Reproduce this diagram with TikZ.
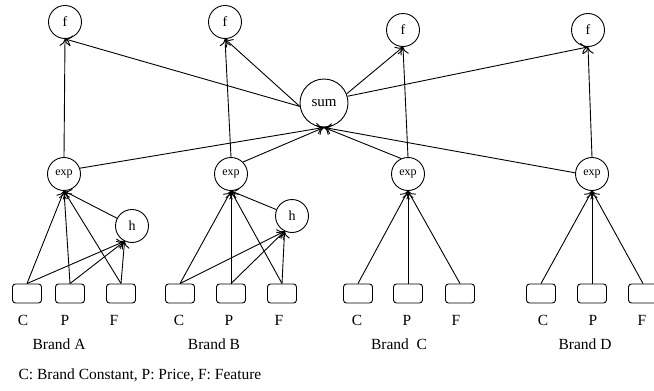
\documentclass[tikz,border=0pt]{standalone}
\usepackage{fontspec}
\setmainfont{Liberation Serif}
\usetikzlibrary{arrows.meta}

\begin{document}
\begin{tikzpicture}[x=1pt,y=-1pt,
  every node/.style={font=\fontsize{15.5}{18}\selectfont},
  unit/.style={circle, draw, line width=0.9pt, minimum size=33pt, inner sep=0pt,
               font=\fontsize{14}{16}\selectfont},
  expunit/.style={unit, font=\fontsize{12}{14}\selectfont},
  sumunit/.style={unit, minimum size=48pt, font=\fontsize{15}{17}\selectfont},
  inbox/.style={draw, line width=0.9pt, rounded corners=3pt, minimum width=29pt, minimum height=19pt, inner sep=0pt},
  arr/.style={line width=0.9pt, -{To[length=7pt,width=11pt]}}
]
\useasboundingbox (0,0) rectangle (654,391);

% output units
\node[unit] (fnA) at (65,22) {f};
\node[unit] (fnB) at (225,22) {f};
\node[unit] (fnC) at (403,30) {f};
\node[unit] (fnD) at (588,30) {f};

% normalising sum
\node[sumunit] (sum) at (324,103) {sum};

% exponential units
\node[expunit] (expA) at (64,174) {exp};
\node[expunit] (expB) at (231,174) {exp};
\node[expunit] (expC) at (408,174) {exp};
\node[expunit] (expD) at (592,174) {exp};

% hidden units
\node[unit] (hA) at (132,226) {h};
\node[unit] (hB) at (292,216) {h};

% input boxes
\foreach \b/\x in {aC/27, aP/70, aF/121, bC/180, bP/231, bF/282,
                   cC/358, cP/408, cF/460, dC/541, dP/592, dF/643}
  \node[inbox] (\b) at (\x,293.5) {};

% input labels
\foreach \t/\x [count=\i] in {C/23, P/65, F/114, C/179, P/229, F/279,
                              C/357, P/407, F/456, C/543, P/593, F/642}
  \node (lab\i) at (\x,320) {\t};

\node (brandA) at (59,344) {Brand A};
\node (brandB) at (214,344) {Brand B};
\node (brandC) at (399,344) {Brand\ \ C};
\node (brandD) at (585,344) {Brand D};

\node[anchor=west] (legend) at (15,375) {C: Brand Constant, P: Price, F: Feature};

% inputs into exp and h
\foreach \g/\h in {a/hA, b/hB} {
  \foreach \k in {C,P,F} {
    \draw[arr] (\g\k.north) -- (\h.-116);
  }
}
\foreach \g/\e in {a/expA, b/expB, c/expC, d/expD} {
  \foreach \k in {C,P,F} {
    \draw[arr] (\g\k.north) -- (\e.south);
  }
}
\draw[arr] (hA) -- (expA.south);
\draw[arr] (hB) -- (expB.south);

% exp to outputs
\draw[arr] (expA.north) -- (fnA.south);
\draw[arr] (expB.north) -- (fnB.south);
\draw[arr] (expC.north) -- (fnC.south);
\draw[arr] (expD.north) -- (fnD.south);

% exp into sum
\draw[arr] (expA.20) -- (sum.south);
\draw[arr] (expB.45) -- (sum.south);
\draw[arr] (expC.114) -- (sum.south);
\draw[arr] (expD.176) -- (sum.south);

% sum to outputs
\draw[arr] (sum.188) -- (fnA.south);
\draw[arr] (sum.188) -- (fnB.south);
\draw[arr] (sum.22) -- (fnC.south);
\draw[arr] (sum.16) -- (fnD.south);
\end{tikzpicture}
\end{document}
